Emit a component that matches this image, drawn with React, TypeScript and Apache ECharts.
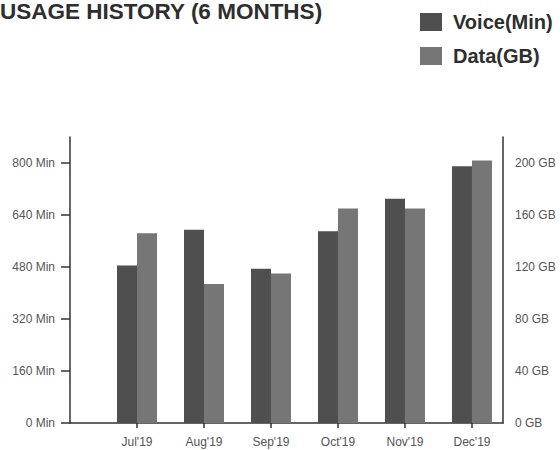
import React, { useEffect, useRef } from "react";
import * as echarts from "echarts";

const months = ["Jul'19", "Aug'19", "Sep'19", "Oct'19", "Nov'19", "Dec'19"];
const voiceMin = [485, 595, 475, 590, 690, 790];
const dataGB = [146, 107, 115, 165, 165, 202];
const minTicks = [0, 160, 320, 480, 640, 800];
const gbTicks = [0, 40, 80, 120, 160, 200];
const monthTicks = [0, 1, 2, 3, 4, 5];

const FONT = "Liberation Sans, Arial, sans-serif";

export default function App() {
  const ref = useRef<HTMLDivElement>(null);
  useEffect(() => {
    if (!ref.current) return;
    const chart = echarts.init(ref.current, undefined, { renderer: "svg" });
    chart.setOption({
      animation: false,
      backgroundColor: "#ffffff",
      textStyle: { fontFamily: FONT },
      title: {
        text: "USAGE HISTORY (6 MONTHS)",
        left: 0,
        top: 0,
        padding: 0,
        textStyle: { fontSize: 22.5, fontWeight: "bold", color: "#2e2e2e", fontFamily: FONT },
      },
      legend: {
        orient: "vertical",
        left: 420,
        top: 12,
        padding: 0,
        itemWidth: 22,
        itemHeight: 18,
        itemGap: 14,
        icon: "rect",
        textStyle: { fontSize: 20, fontWeight: "bold", color: "#2e2e2e", fontFamily: FONT, padding: [0, 0, 0, 6] },
        data: ["Voice(Min)", "Data(GB)"],
      },
      grid: { left: 70, right: 57, top: 137, bottom: 27, containLabel: false },
      xAxis: {
        type: "value",
        min: -1,
        max: 5.463,
        axisLine: { show: true, onZero: false, lineStyle: { color: "#333", width: 1.5 } },
        splitLine: { show: false },
        axisTick: { show: true, customValues: monthTicks, length: 5, lineStyle: { color: "#333", width: 1.5 } },
        axisLabel: {
          customValues: monthTicks,
          margin: 13,
          fontSize: 12,
          color: "#555",
          fontFamily: FONT,
          formatter: (v: number) => months[Math.round(v)] ?? "",
        },
      },
      yAxis: [
        {
          type: "value",
          position: "left",
          min: 0,
          max: 880,
          interval: 160,
          axisLine: { show: true, onZero: false, lineStyle: { color: "#333", width: 1.5 } },
          splitLine: { show: false },
          axisTick: { show: true, customValues: minTicks, length: 9, lineStyle: { color: "#333", width: 1.5 } },
          axisLabel: {
            customValues: minTicks,
            margin: 15,
            fontSize: 12,
            color: "#555",
            fontFamily: FONT,
            formatter: (v: number) => `${v} Min`,
          },
        },
        {
          type: "value",
          position: "right",
          min: 0,
          max: 220,
          interval: 40,
          axisLine: { show: true, onZero: false, lineStyle: { color: "#333", width: 1.5 } },
          splitLine: { show: false },
          axisTick: { show: false },
          axisLabel: {
            customValues: gbTicks,
            margin: 12,
            fontSize: 12,
            color: "#555",
            fontFamily: FONT,
            formatter: (v: number) => `${v} GB`,
          },
        },
      ],
      series: [
        {
          name: "Voice(Min)",
          type: "bar",
          yAxisIndex: 0,
          barWidth: 20,
          barGap: "0%",
          itemStyle: { color: "#4f4f4f" },
          data: voiceMin.map((v, i) => [i, v]),
        },
        {
          name: "Data(GB)",
          type: "bar",
          yAxisIndex: 1,
          barWidth: 20,
          barGap: "0%",
          itemStyle: { color: "#767676" },
          data: dataGB.map((v, i) => [i, v]),
        },
      ],
    });
    return () => chart.dispose();
  }, []);
  return (
    <div
      ref={ref}
      style={{ position: "fixed", left: 0, top: 0, width: 560, height: 450 }}
    />
  );
}
